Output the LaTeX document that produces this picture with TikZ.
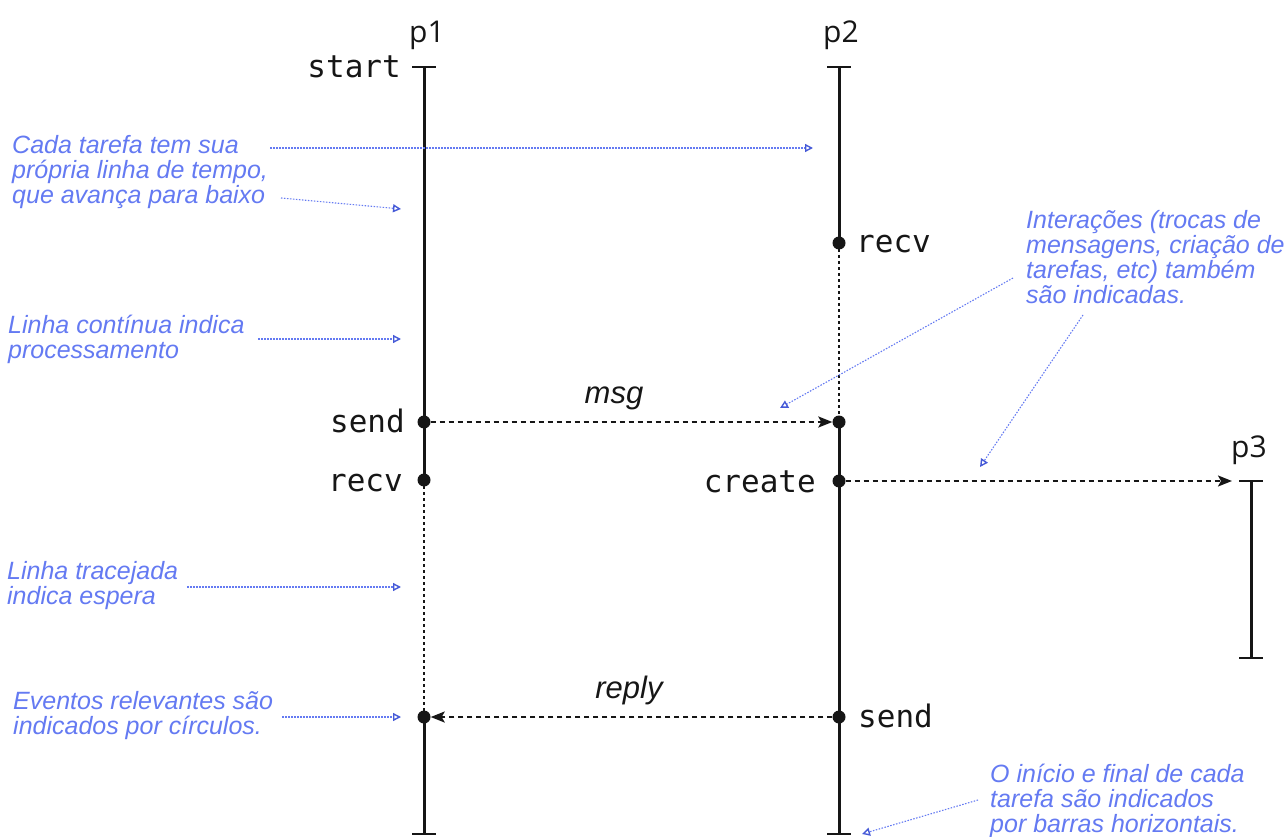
\documentclass[tikz,border=0pt]{standalone}
\usepackage{fontspec}
\setmainfont{Liberation Sans}
\newfontfamily\monofont{DejaVu Sans Mono}
\newfontfamily\labfont{Open Sans}
\usetikzlibrary{arrows.meta}
\definecolor{notec}{RGB}{100,122,242}
\definecolor{notetip}{RGB}{70,90,215}
\definecolor{ink}{RGB}{22,22,22}
\begin{document}
\begin{tikzpicture}[x=1pt,y=-1pt,
 lifeline/.style={draw=ink,line width=3pt},
 waitline/.style={draw=ink,line width=2.6pt,dash pattern=on 3pt off 3pt},
 msgline/.style={draw=ink,line width=2.1pt,dash pattern=on 5pt off 4pt,-{Stealth[length=14pt,width=11pt,inset=3pt]}},
 endbar/.style={draw=ink,line width=2.8pt},
 ev/.style={circle,fill=ink,inner sep=0pt,minimum size=13pt},
 mono/.style={font=\monofont\fontsize{31}{31}\selectfont,text=ink,inner sep=0pt},
 plabel/.style={font=\labfont\fontsize{30}{30}\selectfont,text=ink,inner sep=0pt,anchor=base},
 msglabel/.style={font=\itshape\fontsize{31}{31}\selectfont,text=ink,inner sep=0pt,anchor=base},
 notetext/.style={font=\itshape\fontsize{25}{25}\selectfont,text=notec,align=left,inner sep=0pt,anchor=north west},
 pointer/.style={draw=notec,line width=1.1pt,dash pattern=on 1.5pt off 1.5pt,-{Triangle[open,length=8pt,width=8pt,line width=1.4pt,color=notetip]}},
]
\useasboundingbox (0,0) rectangle (1288,837);

% timeline ends
\coordinate (p1top) at (424,67);
\coordinate (p1bot) at (424,834);
\coordinate (p2top) at (839,67);
\coordinate (p2bot) at (839,834);
\coordinate (p3top) at (1251,481);
\coordinate (p3bot) at (1251,658);

% events
\node[ev] (s1) at (424,422) {};
\node[ev] (r1) at (424,480) {};
\node[ev] (e1) at (424,717) {};
\node[ev] (r2) at (839,243) {};
\node[ev] (e2) at (839,422) {};
\node[ev] (c2) at (839,481) {};
\node[ev] (s2) at (839,717) {};

% p1
\draw[lifeline] (p1top) -- (s1.center) -- (r1.center);
\draw[waitline] (r1.center) -- (e1.center);
\draw[lifeline] (e1.center) -- (p1bot);
% p2
\draw[lifeline] (p2top) -- (r2.center);
\draw[waitline] (r2.center) -- (e2.center);
\draw[lifeline] (e2.center) -- (p2bot);
% p3
\draw[lifeline] (p3top) -- (p3bot);

% bars
\foreach \c in {p1top,p1bot,p2top,p2bot,p3top,p3bot}
  \draw[endbar] ([xshift=-12pt]\c) -- ([xshift=12pt]\c);

% messages
\draw[msgline] (s1) -- (e2);
\draw[msgline,shorten >=19pt] (c2) -- (p3top);
\draw[msgline] (s2) -- (e1);

% labels
\node[plabel] (lp1) at (427,43) {p1};
\node[plabel] (lp2) at (841,43) {p2};
\node[plabel] (lp3) at (1249,457) {p3};
\node[mono,anchor=base east] (lstart) at (401,78) {start};
\node[mono,anchor=base east] (lsend1) at (405,432) {send};
\node[mono,anchor=base east] (lrecv1) at (403,491) {recv};
\node[mono,anchor=base west] (lrecv2) at (856,252) {recv};
\node[mono,anchor=base east] (lcreate) at (816,492) {create};
\node[mono,anchor=base west] (lsend2) at (858,727) {send};
\node[msglabel] (lmsg) at (614,403) {msg};
\node[msglabel] (lreply) at (629,698) {reply};

% notes
\node[notetext] (n1) at (12,135) {Cada tarefa tem sua\\própria linha de tempo,\\que avança para baixo};
\node[notetext] (n2) at (8,314.5) {Linha contínua indica\\processamento};
\node[notetext] (n3) at (7,561.5) {Linha tracejada\\indica espera};
\node[notetext] (n4) at (13,691.5) {Eventos relevantes são\\indicados por círculos.};
\node[notetext] (n5) at (1026,210) {Interações (trocas de\\mensagens, criação de\\tarefas, etc) também\\são indicadas.};
\node[notetext] (n6) at (990,763.5) {O início e final de cada\\tarefa são indicados\\por barras horizontais.};

% pointer coordinates
\coordinate (a1s) at (270,148); \coordinate (a1e) at (813,148);
\coordinate (a2s) at (281,198); \coordinate (a2e) at (401,209);
\coordinate (a3s) at (258,339); \coordinate (a3e) at (401,339);
\coordinate (a4s) at (187,587); \coordinate (a4e) at (401,587);
\coordinate (a5s) at (282,717); \coordinate (a5e) at (401,717);
\coordinate (a6s) at (1013,278); \coordinate (a6e) at (780,408);
\coordinate (a7s) at (1083,315); \coordinate (a7e) at (980,467);
\coordinate (a8s) at (978,800); \coordinate (a8e) at (862,834);

\draw[pointer] (a1s) -- (a1e);
\draw[pointer] (a2s) -- (a2e);
\draw[pointer] (a3s) -- (a3e);
\draw[pointer] (a4s) -- (a4e);
\draw[pointer] (a5s) -- (a5e);
\draw[pointer] (a6s) -- (a6e);
\draw[pointer] (a7s) -- (a7e);
\draw[pointer] (a8s) -- (a8e);
\end{tikzpicture}
\end{document}
